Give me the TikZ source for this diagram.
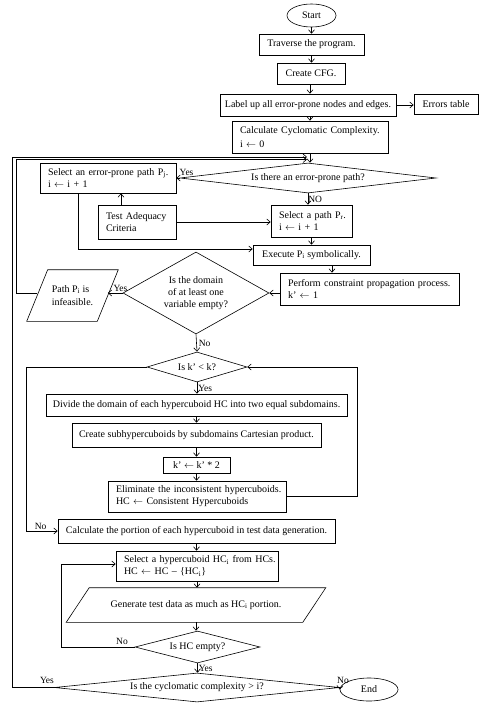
\documentclass[tikz,border=0pt]{standalone}
\usepackage{fontspec}
\setmainfont{Liberation Serif}
\usetikzlibrary{shapes.geometric,arrows.meta,calc}
\newcommand{\la}{$\leftarrow$}
\begin{document}
\begin{tikzpicture}[x=1pt,y=-1pt,
  font=\fontsize{10}{12}\selectfont,
  line width=0.6pt,
  >={Straight Barb[length=3.5pt,width=6pt]},
  cbox/.style={draw, rectangle, inner sep=0pt, align=center},
  lbox/.style={draw, rectangle, inner xsep=8pt, inner ysep=0pt, align=left},
  dec/.style={draw, diamond, inner sep=0pt, align=center},
  term/.style={draw, ellipse, inner sep=0pt},
  lbl/.style={inner sep=0pt, font=\fontsize{9.5}{11}\selectfont}]
\useasboundingbox (0,0) rectangle (483,706);
\fill[white] (0,0) rectangle (483,706);

% nodes
\node[term, minimum width=49, minimum height=23] (start) at (311.5,15.5) {Start};
\node[cbox, minimum width=105, minimum height=21] (trav) at (311.5,44.5) {Traverse the program.};
\node[cbox, minimum width=68, minimum height=21] (cfg) at (311,73.5) {Create CFG.};
\node[cbox, minimum width=176, minimum height=22] (lab) at (308,105) {Label up all error-prone nodes and edges.};
\node[cbox, minimum width=64, minimum height=20] (err) at (446,104) {Errors table};
\node[lbox, text width=140, minimum height=32, font=\fontsize{10}{14}\selectfont] (cc) at (310,137) {\mbox{Calculate Cyclomatic Complexity.}\\ i \la{} 0};
\node[dec, aspect=8.5, minimum width=256, minimum height=30] (d1) at (308,178) {Is there an error-prone path?};
\node[lbox, text width=120, minimum height=30, font=\fontsize{10}{12}\selectfont] (selE) at (108,178) {\mbox{Select an error-prone path P\textsubscript{j}.}\\ i \la{} i + 1};
\node[lbox, text width=65, minimum height=32, font=\fontsize{10}{12}\selectfont] (selP) at (311.5,221) {\mbox{Select a path P\textsubscript{r}.}\\ i \la{} i + 1};
\node[lbox, text width=62, minimum height=34] (tac) at (137,222) {Test Adequacy\\ Criteria};
\node[cbox, minimum width=117, minimum height=20] (exec) at (311.5,255) {Execute P\textsubscript{i} symbolically.};
\node[lbox, text width=163, minimum height=32] (perf) at (369.5,289) {\mbox{Perform constraint propagation process.}\\ k’ \la{} 1};
\node[dec, aspect=1.78, minimum width=146, minimum height=82] (d2) at (196,293) {Is the domain\\ of at least one\\ variable empty?};
\node[inner sep=0pt, minimum width=70, minimum height=51, align=left, font=\fontsize{10}{13}\selectfont] (inf) at (72.5,295.5) {Path P\textsubscript{i} is\\ infeasible.};
\node[dec, aspect=3.3, minimum width=100, minimum height=30] (d3) at (197,367) {Is k’ < k?};
\node[cbox, minimum width=301, minimum height=22] (div) at (196.5,405) {Divide the domain of each hypercuboid HC into two equal subdomains.};
\node[cbox, minimum width=249, minimum height=24] (sub) at (196.5,435) {Create subhypercuboids by subdomains Cartesian product.};
\node[cbox, minimum width=67, minimum height=16] (kk) at (196.5,465) {k’ \la{} k’ * 2};
\node[lbox, text width=162, minimum height=31] (elim) at (197,496.5) {\mbox{Eliminate the inconsistent hypercuboids.}\\ HC \la{} Consistent Hypercuboids};
\node[cbox, minimum width=277, minimum height=24] (calc) at (196.5,531) {Calculate the portion of each hypercuboid in test data generation.};
\node[lbox, text width=146, minimum height=30, font=\fontsize{10}{12}\selectfont] (selH) at (197,566) {\mbox{Select a hypercuboid HC\textsubscript{i} from HCs.}\\ HC \la{} HC -- \{HC\textsubscript{i}\}};
\node[inner sep=0pt, minimum width=236, minimum height=34] (gen) at (196,605) {Generate test data as much as HC\textsubscript{i} portion.};
\node[dec, aspect=3.9, minimum width=125, minimum height=32] (d4) at (197.5,647) {Is HC empty?};
\node[dec, aspect=9.8, minimum width=285, minimum height=29] (d5) at (197,687.5) {Is the cyclomatic complexity > i?};
\node[term, minimum width=58, minimum height=23] (end) at (369,689.5) {End};

% parallelogram outlines
\draw ($(inf.north west)+(10.5,0)$) -- ($(inf.north east)+(10.5,0)$) -- ($(inf.south east)+(-10.5,0)$) -- ($(inf.south west)+(-10.5,0)$) -- cycle;
\draw ($(gen.north west)+(11.5,0)$) -- ($(gen.north east)+(11.5,0)$) -- ($(gen.south east)+(-11.5,0)$) -- ($(gen.south west)+(-11.5,0)$) -- cycle;

% coordinates for loop rails
\coordinate (railO) at (12,157);
\coordinate (railI) at (16,159.5);
\coordinate (jo) at (307,157);
\coordinate (ji) at (307,159.5);

% connectors
\draw[->] (start) -- (trav);
\draw[->] (trav) -- (trav.south |- cfg.north);
\draw[->] ([xshift=-1pt]cfg.south) -- ([xshift=-1pt]cfg.south |- lab.north);
\draw[->] ([xshift=-1pt]cfg.south |- lab.south) -- ([xshift=-1pt]cfg.south |- cc.north);
\draw[->] (lab.east) -- (err.west |- lab.east);
\draw[->] (cc.south) -- (cc.south |- d1.north);
\draw[->] (d1.west) -- (selE.east) node[lbl, pos=1, above right, yshift=2pt, xshift=3pt] {Yes};
\draw[->] (d1.south) -- (d1.south |- selP.north) node[lbl, midway, right] {NO};
\draw[->] ([xshift=-16pt]tac.north) -- ([xshift=-16pt]tac.north |- selE.south);
\draw[->] (tac.east) -- (tac.east -| selP.west);
\draw[->] ([xshift=-30pt]selE.south) |- ($(exec.west)+(0,-6)$);
\draw[->] (selP.south) -- (selP.south |- exec.north);
\draw[->] ([xshift=20.5pt]exec.south) -- ([xshift=20.5pt]exec.south |- perf.north);
\draw[->] (perf.west |- d2.east) -- (d2.east);
\draw[->] (d2.west) -- (d2.west -| inf.east) node[lbl, pos=0.15, above, yshift=1pt] {Yes};
\draw[->] (inf.west |- d2.west) -| (railI) -- (ji);
\draw[->] (d2.south) -- (d3.north) node[lbl, midway, right, xshift=2pt] {No};
\draw[->] (d3.south) -- (d3.south |- div.north) node[lbl, midway, right, xshift=1pt] {Yes};
\draw[->] (div.south) -- (sub.north);
\draw[->] (sub.south) -- (kk.north);
\draw[->] (kk.south) -- (kk.south |- elim.north);
\draw[->] (elim.east) -- ++(71,0) |- (d3.east);
\draw[->] (d3.west) -| ($(calc.west)+(-31,0)$) -- (calc.west) node[lbl, pos=0.45, above, yshift=1pt] {No};
\draw[->] (calc.south) -- (calc.south |- selH.north);
\draw[->] (selH.south) -- (selH.south |- gen.north);
\draw[->] (gen.south) -- (gen.south |- d4.north);
\draw[->] (d4.west) -| ($(selH.west)+(-54,-2)$) -- ($(selH.west)+(0,-2)$);
\node[lbl] (no4) at (122,641) {No};
\draw[->] (d4.south) -- (d4.south |- d5.north) node[lbl, midway, right, xshift=1pt] {Yes};
\draw[->] (d5.west) -| (railO) -- (jo);
\node[lbl] (yes5) at (47,680) {Yes};
\draw[->] (d5.east) -- (end.west);
\node[lbl] (no5) at (343,680) {No};
\end{tikzpicture}
\end{document}
